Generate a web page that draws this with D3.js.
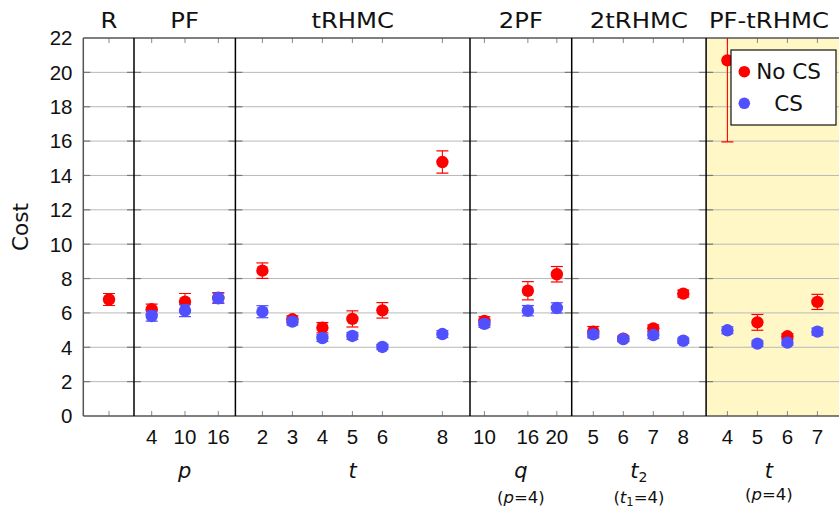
<!DOCTYPE html>
<html>
<head>
<meta charset="utf-8">
<script src="https://cdn.jsdelivr.net/npm/d3@7"></script>
<style>
  html, body { margin: 0; padding: 0; background: #fff; }
  svg { display: block; font-family: "DejaVu Sans", sans-serif; }
</style>
</head>
<body>
<svg id="chart" width="839" height="508"></svg>
<script>
// ---------------- DATA ----------------
const groupNames = ["R", "PF", "tRHMC", "2PF", "2tRHMC", "PF-tRHMC"];
const groupTicks = [[0], [4, 10, 16], [2, 3, 4, 5, 6, 8], [10, 16, 20], [5, 6, 7, 8], [4, 5, 6, 7]];
const groupTickLabels = [[""], ["4", "10", "16"], ["2", "3", "4", "5", "6", "8"], ["10", "16", "20"], ["5", "6", "7", "8"], ["4", "5", "6", "7"]];
const noCS    = [[6.78], [6.21, 6.65, 6.88], [8.46, 5.63, 5.14, 5.65, 6.15, 14.78], [5.53, 7.29, 8.25], [4.91, 4.50, 5.10, 7.12], [20.7, 5.45, 4.64, 6.64]];
const noCSErr = [[0.35], [0.30, 0.48, 0.30], [0.45, 0.20, 0.30, 0.47, 0.45, 0.65], [0.25, 0.53, 0.45], [0.30, 0.15, 0.20, 0.20], [4.75, 0.46, 0.15, 0.44]];
const cs      = [[null], [5.82, 6.13, 6.85], [6.07, 5.49, 4.54, 4.66, 4.02, 4.77], [5.36, 6.13, 6.29], [4.75, 4.48, 4.71, 4.38], [4.99, 4.21, 4.27, 4.91]];
const csErr   = [[null], [0.30, 0.35, 0.30], [0.35, 0.20, 0.20, 0.20, 0.15, 0.20], [0.20, 0.30, 0.30], [0.20, 0.15, 0.20, 0.15], [0.20, 0.15, 0.15, 0.20]];
const yTicks  = [0, 2, 4, 6, 8, 10, 12, 14, 16, 18, 20, 22];
const seriesNames = ["No CS", "CS"];
const xLabels = [null, {main: "p"}, {main: "t"}, {main: "q", sub: "(p=4)"}, {main: "t", idx: "2", sub: "(t1=4)"}, {main: "t", sub: "(p=4)"}];

// ---------------- LAYOUT (axis units: 1 unit = one t step) ----------------
const groupLayout = [
  {start: 0.00,  end: 1.69,  base: 0,  first: 0.857, unit: 1},
  {start: 1.69,  end: 5.07,  base: 4,  first: 2.28,  unit: 0.185},
  {start: 5.07,  end: 12.89, base: 2,  first: 5.97,  unit: 1},
  {start: 12.89, end: 16.28, base: 10, first: 13.37, unit: 0.2415},
  {start: 16.28, end: 20.76, base: 5,  first: 17.0,  unit: 1},
  {start: 20.76, end: 25.2,  base: 4,  first: 21.47, unit: 1}
];
const pos = (g, v) => groupLayout[g].first + (v - groupLayout[g].base) * groupLayout[g].unit;

const svg = d3.select("#chart");
const L = 83.3, R = 839.3, T = 38, B = 416;
const x = d3.scaleLinear().domain([0, 25.2]).range([L, R]);
const y = d3.scaleLinear().domain([0, 22]).range([B, T]);
const red = "#ff0000", blue = "#5050ff";
const tickFont = "'Liberation Sans', Arial, sans-serif";

// clip
svg.append("defs").append("clipPath").attr("id", "plotclip")
  .append("rect").attr("x", L).attr("y", T).attr("width", R - L).attr("height", B - T);

// highlighted group background
svg.append("rect")
  .attr("x", x(groupLayout[5].start)).attr("y", T)
  .attr("width", x(25.5) - x(groupLayout[5].start)).attr("height", B - T)
  .attr("fill", "#fff8c6");

// grid lines
svg.append("g").selectAll("line").data(yTicks.slice(1, -1)).join("line")
  .attr("x1", L).attr("x2", R + 5)
  .attr("y1", d => y(d)).attr("y2", d => y(d))
  .attr("stroke", "#b8b8b8").attr("stroke-width", 1);

// y ticks on each subplot frame (inner)
const frames = groupLayout.map(g => g.start);
frames.forEach((f, i) => {
  const fx = x(f);
  svg.append("g").selectAll("line").data(yTicks.slice(1, -1)).join("line")
    .attr("x1", i === 0 ? fx : fx - 7).attr("x2", fx + 7)
    .attr("y1", d => y(d)).attr("y2", d => y(d))
    .attr("stroke", "#777").attr("stroke-width", 1.2);
});

// x ticks top and bottom
const allTicks = [];
groupTicks.forEach((ts, g) => ts.forEach((t, i) => allTicks.push({g, t, label: groupTickLabels[g][i]})));
const tickG = svg.append("g");
tickG.selectAll("line.b").data(allTicks).join("line").attr("class", "b")
  .attr("x1", d => x(pos(d.g, d.t))).attr("x2", d => x(pos(d.g, d.t)))
  .attr("y1", B).attr("y2", B - 5).attr("stroke", "#888").attr("stroke-width", 1);
tickG.selectAll("line.t").data(allTicks).join("line").attr("class", "t")
  .attr("x1", d => x(pos(d.g, d.t))).attr("x2", d => x(pos(d.g, d.t)))
  .attr("y1", T).attr("y2", T + 5).attr("stroke", "#888").attr("stroke-width", 1);

// x tick labels
svg.append("g").selectAll("text").data(allTicks).join("text")
  .attr("x", d => x(pos(d.g, d.t))).attr("y", 443.5)
  .attr("text-anchor", "middle").attr("font-size", 20.5).attr("font-family", tickFont).attr("fill", "#111")
  .text(d => d.label);

// y axis tick labels
svg.append("g").selectAll("text").data(yTicks).join("text")
  .attr("x", 72.5).attr("y", d => y(d) + 7.4)
  .attr("text-anchor", "end").attr("font-size", 20.5).attr("font-family", tickFont).attr("fill", "#111")
  .text(d => d);

// y axis title
svg.append("text").attr("transform", `translate(28,${(T + B) / 2}) rotate(-90)`)
  .attr("text-anchor", "middle").attr("font-size", 21.5).attr("fill", "#111").text("Cost");

// outer frame
svg.append("line").attr("x1", L).attr("x2", L).attr("y1", T).attr("y2", B).attr("stroke", "#555").attr("stroke-width", 1.5);
svg.append("line").attr("x1", L).attr("x2", R + 5).attr("y1", T).attr("y2", T).attr("stroke", "#555").attr("stroke-width", 1.5);
svg.append("line").attr("x1", L).attr("x2", R + 5).attr("y1", B).attr("y2", B).attr("stroke", "#555").attr("stroke-width", 1.5);

// separators
svg.append("g").selectAll("line").data(frames.slice(1)).join("line")
  .attr("x1", d => x(d)).attr("x2", d => x(d)).attr("y1", T).attr("y2", B)
  .attr("stroke", "#000").attr("stroke-width", 1.5);

// group titles (slightly wide face, as in the original typesetting)
const groupCenter = g => (x(groupLayout[g].start) + x(Math.min(groupLayout[g].end, 24.95))) / 2;
svg.append("g").selectAll("text").data(groupNames).join("text")
  .attr("x", (d, i) => i === 0 ? x(groupLayout[0].first) : groupCenter(i))
  .attr("y", 28).attr("text-anchor", "middle").attr("font-size", 21.5).attr("fill", "#111")
  .text(d => d)
  .each(function () {
    const w = this.getComputedTextLength();
    d3.select(this).attr("textLength", w * 1.13).attr("lengthAdjust", "spacingAndGlyphs");
  });

// x axis labels
xLabels.forEach((lab, g) => {
  if (!lab) return;
  const cx = groupCenter(g);
  const t = svg.append("text").attr("x", cx).attr("y", 478).attr("text-anchor", "middle")
    .attr("font-size", 21).attr("font-style", "italic").attr("fill", "#111");
  t.append("tspan").text(lab.main);
  if (lab.idx) t.append("tspan").attr("font-size", 14).attr("font-style", "normal").attr("dy", 3.5).text(lab.idx);
  if (lab.sub) {
    const s = svg.append("text").attr("x", cx).attr("y", g === 5 ? 500 : 503).attr("text-anchor", "middle")
      .attr("font-size", 16.5).attr("fill", "#111");
    if (lab.sub === "(t1=4)") {
      s.append("tspan").text("(");
      s.append("tspan").attr("font-style", "italic").text("t");
      s.append("tspan").attr("font-size", 11.5).attr("dy", 3).text("1");
      s.append("tspan").attr("dy", -3).text("=4)");
    } else {
      s.append("tspan").text("(");
      s.append("tspan").attr("font-style", "italic").text("p");
      s.append("tspan").text("=4)");
    }
  }
});

// points
function points(vals, errs) {
  const out = [];
  vals.forEach((arr, g) => arr.forEach((v, i) => {
    if (v !== null) out.push({g, t: groupTicks[g][i], v, e: errs[g][i]});
  }));
  return out;
}
function drawSeries(data, color) {
  const gg = svg.append("g").attr("clip-path", "url(#plotclip)");
  gg.selectAll("line.eb").data(data).join("line").attr("class", "eb")
    .attr("x1", d => x(pos(d.g, d.t))).attr("x2", d => x(pos(d.g, d.t)))
    .attr("y1", d => y(d.v - d.e)).attr("y2", d => y(d.v + d.e))
    .attr("stroke", color).attr("stroke-width", 1.1);
  ["lo", "hi"].forEach(k => {
    gg.selectAll("line.c" + k).data(data).join("line").attr("class", "c" + k)
      .attr("x1", d => x(pos(d.g, d.t)) - 6).attr("x2", d => x(pos(d.g, d.t)) + 6)
      .attr("y1", d => y(k === "lo" ? d.v - d.e : d.v + d.e))
      .attr("y2", d => y(k === "lo" ? d.v - d.e : d.v + d.e))
      .attr("stroke", color).attr("stroke-width", 1.2);
  });
  gg.selectAll("circle").data(data).join("circle")
    .attr("cx", d => x(pos(d.g, d.t))).attr("cy", d => y(d.v)).attr("r", 6.2)
    .attr("fill", color);
}
drawSeries(points(noCS, noCSErr), red);
drawSeries(points(cs, csErr), blue);

// legend
const lg = svg.append("g").attr("transform", "translate(731,50)");
lg.append("rect").attr("width", 105).attr("height", 75).attr("fill", "#fff").attr("stroke", "#111").attr("stroke-width", 1.2);
const colors = [red, blue];
seriesNames.forEach((n, i) => {
  lg.append("circle").attr("cx", 13.3).attr("cy", 21.7 + i * 31.6).attr("r", 5.8).attr("fill", colors[i]);
  lg.append("text").attr("x", 57.5).attr("y", 29 + i * 31.6).attr("text-anchor", "middle")
    .attr("font-size", 21.5).attr("fill", "#111").text(n);
});
</script>
</body>
</html>
